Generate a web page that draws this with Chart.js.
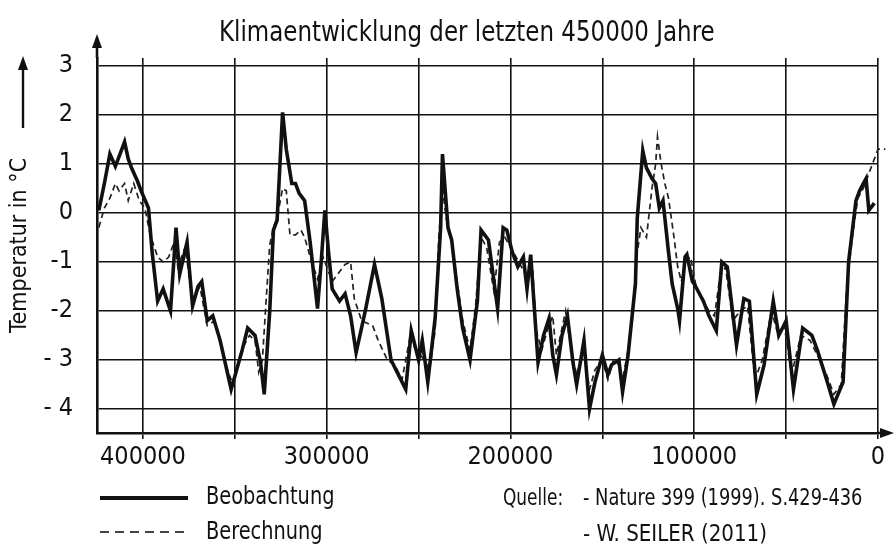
<!DOCTYPE html>
<html>
<head>
<meta charset="utf-8">
<script src="https://cdn.jsdelivr.net/npm/chart.js@4/dist/chart.umd.min.js"></script>
<style>
  html, body { margin: 0; padding: 0; background: #fff; }
  #wrap { position: relative; width: 896px; height: 552px; overflow: hidden;
    font-family: "DejaVu Sans Condensed", "Liberation Sans", sans-serif; color: #111; }
  #chart { position: absolute; left: 0; top: 0; }
  .txt { position: absolute; white-space: nowrap; line-height: 1; transform-origin: 0 0; }
  .lg { position: absolute; left: 100px; width: 88px; height: 0; }
</style>
</head>
<body>
<div id="wrap">
  <canvas id="chart" width="896" height="552"></canvas>
  <div class="txt" style="left:219px; top:17px; font-size:29px; transform:scaleX(0.88);">Klimaentwicklung der letzten 450000 Jahre</div>
  <div class="lg" style="top:496px; border-top:4px solid #111;"></div>
  <div class="txt" style="left:206px; top:483px; font-size:25px; transform:scaleX(0.86);">Beobachtung</div>
  <div class="lg" style="top:531px; height:2px; background:repeating-linear-gradient(90deg, #444 0 9px, transparent 9px 15px);"></div>
  <div class="txt" style="left:206px; top:518px; font-size:25px; transform:scaleX(0.86);">Berechnung</div>
  <div class="txt" style="left:503px; top:486px; font-size:23px; transform:scaleX(0.82);">Quelle:</div>
  <div class="txt" style="left:583px; top:486px; font-size:23px; transform:scaleX(0.86);">- Nature 399 (1999). S.429-436</div>
  <div class="txt" style="left:583px; top:522px; font-size:23px; transform:scaleX(0.96);">- W. SEILER (2011)</div>
</div>
<script>
// years before present (in thousands) and temperature difference in °C
const obsYears = [424, 421, 418, 415, 413, 410, 408, 406, 403, 401, 397, 395, 392, 389, 385, 382, 380, 376, 373, 370,
  368, 365, 362, 358, 355, 352, 349, 346, 343, 339, 336, 334, 331, 329, 327, 324, 322, 319, 317, 315,
  312, 309, 305, 303, 301, 299, 297, 293, 290, 287, 284, 279, 274, 270, 265, 261, 257, 254, 250, 248,
  245, 241, 238, 237, 234, 232, 229, 226, 222, 218, 216, 212, 207, 204, 202, 199, 196, 193, 191, 189,
  187, 185, 182, 179, 177, 175, 172, 169, 166, 164, 160, 157, 154, 150, 147, 145, 141, 139, 136, 132,
  131, 128, 126, 123, 121, 119, 117, 114, 112, 109, 108, 105, 104, 101, 100, 95, 92, 88, 85, 82,
  77, 73, 70, 66, 62, 57, 54, 50, 46, 41, 36, 33, 28, 24, 19, 16, 12, 10, 8, 6.5, 5, 2];
const obsTemps = [0.05, 0.6, 1.2, 0.95, 1.15, 1.45, 1.1, 0.9, 0.65, 0.45, 0.1, -0.8, -1.8, -1.55, -2.0, -0.3, -1.25, -0.6, -1.9, -1.5,
  -1.4, -2.2, -2.1, -2.6, -3.1, -3.6, -3.2, -2.8, -2.35, -2.5, -3.05, -3.7, -2.0, -0.35, -0.15, 2.05, 1.3, 0.6, 0.6, 0.4,
  0.25, -0.6, -1.95, -1.0, 0.05, -0.8, -1.55, -1.8, -1.65, -2.1, -2.85, -2.0, -1.05, -1.75, -3.0, -3.3, -3.6, -2.4, -3.0, -2.6,
  -3.45, -2.15, -0.3, 1.2, -0.3, -0.55, -1.55, -2.35, -3.0, -1.8, -0.35, -0.55, -1.95, -0.3, -0.35, -0.8, -1.1, -0.9, -1.55, -0.85,
  -1.95, -3.05, -2.5, -2.15, -2.9, -3.3, -2.5, -2.1, -3.05, -3.5, -2.6, -4.0, -3.45, -2.9, -3.3, -3.1, -3.0, -3.65, -2.9, -1.45,
  -0.1, 1.27, 0.92, 0.7, 0.6, 0.1, 0.25, -0.8, -1.45, -1.95, -2.2, -0.9, -0.85, -1.4, -1.45, -1.8, -2.1, -2.4, -1.0, -1.1,
  -2.7, -1.75, -1.8, -3.7, -3.1, -1.8, -2.5, -2.2, -3.6, -2.35, -2.5, -2.8, -3.4, -3.9, -3.45, -1.0, 0.25, 0.45, 0.6, 0.7, 0.05, 0.2];

const calcYears = [424, 421, 418, 415, 413, 410, 408, 405, 402, 399, 396, 392, 389, 386, 383, 381, 377, 373, 369, 365,
  361, 357, 354, 351, 348, 345, 342, 339, 337, 335, 333, 331, 329, 327, 324, 322, 320, 317, 314, 312,
  309, 305, 302, 300, 297, 293, 290, 287, 285, 281, 275, 272, 267, 263, 259, 255, 251, 247, 244, 241,
  239, 237, 235, 232, 229, 226, 222, 219, 216, 213, 209, 206, 203, 200, 197, 194, 191, 188, 186, 183,
  180, 177, 175, 170, 167, 164, 160, 157, 154, 150, 147, 144, 141, 139, 136, 133, 131, 129, 126, 123,
  121, 120, 118, 116, 114, 111, 109, 107, 105, 102, 99, 95, 92, 89, 86, 83, 79, 75, 71, 67,
  63, 58, 55, 51, 47, 42, 37, 33, 28, 24, 20, 17, 14, 11, 8, 5, 3, 1, 0, -4];
const calcTemps = [-0.3, 0.1, 0.3, 0.6, 0.45, 0.6, 0.25, 0.6, 0.25, 0.1, -0.45, -0.9, -1.0, -0.9, -0.6, -1.1, -0.7, -1.8, -1.5, -2.3,
  -2.2, -2.8, -3.2, -3.5, -3.1, -2.7, -2.5, -2.6, -3.25, -3.0, -1.8, -0.65, -0.3, -0.1, 0.5, 0.45, -0.45, -0.45, -0.35, -0.5,
  -0.9, -1.35, -0.9, -1.1, -1.4, -1.2, -1.05, -1.0, -1.75, -2.2, -2.3, -2.6, -3.0, -3.1, -3.4, -2.6, -2.8, -3.0, -3.2, -2.4,
  -0.5, 0.5, -0.1, -0.6, -1.4, -2.2, -2.8, -1.9, -0.5, -0.7, -1.6, -0.6, -0.5, -0.7, -0.9, -1.1, -1.3, -1.1, -2.4, -2.8,
  -2.4, -2.1, -2.9, -2.0, -2.8, -3.3, -2.8, -3.6, -3.2, -3.0, -3.4, -3.0, -3.1, -3.4, -2.8, -1.8, -0.8, -0.3, -0.5, 0.5,
  1.0, 1.55, 1.0, 0.6, 0.3, -0.5, -1.1, -1.4, -1.0, -0.9, -1.5, -1.8, -2.0, -2.1, -1.3, -1.1, -2.2, -2.0, -1.9, -3.4,
  -3.0, -2.0, -2.4, -2.3, -3.3, -2.5, -2.6, -2.9, -3.3, -3.7, -3.5, -1.5, -0.5, 0.3, 0.5, 0.8, 1.0, 1.2, 1.3, 1.3];

const xGridValues = [400000, 350000, 300000, 250000, 200000, 150000, 100000, 50000, 0];
const xTickValues = [400000, 300000, 200000, 100000, 0];
const xTickLabels = ["400000", "300000", "200000", "100000", "0"];
const yTickValues = [-4, -3, -2, -1, 0, 1, 2, 3];
const yTickLabels = ["- 4", "- 3", "-2", "-1", "0", "1", "2", "3"];

const toPoints = (years, temps) => years.map((y, i) => ({ x: y * 1000, y: temps[i] }));

const INK = "#111";
const FAMILY = "'DejaVu Sans Condensed', 'Liberation Sans', sans-serif";

// arrows on the axes and next to the axis title
const arrowPlugin = {
  id: "arrows",
  afterDraw(chart) {
    const { ctx, chartArea: a } = chart;
    const arrow = (x1, y1, x2, y2, w) => {
      const ang = Math.atan2(y2 - y1, x2 - x1);
      ctx.save();
      ctx.strokeStyle = INK;
      ctx.fillStyle = INK;
      ctx.lineWidth = w;
      ctx.beginPath();
      ctx.moveTo(x1, y1);
      ctx.lineTo(x2 - Math.cos(ang) * 6, y2 - Math.sin(ang) * 6);
      ctx.stroke();
      ctx.translate(x2, y2);
      ctx.rotate(ang);
      ctx.beginPath();
      ctx.moveTo(0, 0);
      ctx.lineTo(-14, -5);
      ctx.lineTo(-14, 5);
      ctx.closePath();
      ctx.fill();
      ctx.restore();
    };
    arrow(a.left, a.top, a.left, a.top - 24, 2.6);
    arrow(a.right, a.bottom, a.right + 16, a.bottom, 2.6);
    arrow(23, 128, 23, 56, 2.4);
  },
};

new Chart(document.getElementById("chart"), {
  type: "line",
  data: {
    datasets: [
      {
        label: "Beobachtung",
        data: toPoints(obsYears, obsTemps),
        borderColor: INK,
        borderWidth: 3.6,
        pointRadius: 0,
        tension: 0,
        clip: false,
      },
      {
        label: "Berechnung",
        data: toPoints(calcYears, calcTemps),
        borderColor: "#222",
        borderWidth: 1.7,
        borderDash: [6, 4],
        pointRadius: 0,
        tension: 0,
        clip: false,
      },
    ],
  },
  options: {
    responsive: false,
    animation: false,
    devicePixelRatio: 1,
    layout: { padding: { top: 58, right: 18, left: 0, bottom: 0 } },
    plugins: {
      legend: { display: false },
      title: { display: false },
      tooltip: { enabled: false },
    },
    scales: {
      x: {
        type: "linear",
        reverse: true,
        min: 0,
        max: 425000,
        afterFit: (s) => { s.height = 119; },
        afterBuildTicks: (s) => { s.ticks = xGridValues.map((v) => ({ value: v })); },
        border: { display: true, color: INK, width: 2.6 },
        grid: { color: INK, lineWidth: 1.6, tickLength: 6, drawTicks: true },
        ticks: {
          autoSkip: false,
          maxRotation: 0,
          minRotation: 0,
          padding: 3,
          color: INK,
          font: { family: FAMILY, size: 25 },
          callback: (v) => {
            const i = xTickValues.indexOf(Math.round(v));
            return i < 0 ? "" : xTickLabels[i];
          },
        },
      },
      y: {
        min: -4.49,
        max: 3.16,
        afterFit: (s) => { s.width = 97; },
        afterBuildTicks: (s) => { s.ticks = yTickValues.map((v) => ({ value: v })); },
        border: { display: true, color: INK, width: 2.6 },
        grid: { color: INK, lineWidth: 1.6, drawTicks: false },
        title: {
          display: true,
          text: "Temperatur in °C",
          color: INK,
          font: { family: FAMILY, size: 23 },
          padding: { top: 6, bottom: 0 },
        },
        ticks: {
          padding: 24,
          color: INK,
          font: { family: FAMILY, size: 25 },
          callback: (v) => {
            const i = yTickValues.indexOf(Math.round(v));
            return i < 0 ? "" : yTickLabels[i];
          },
        },
      },
    },
  },
  plugins: [arrowPlugin],
});
</script>
</body>
</html>
